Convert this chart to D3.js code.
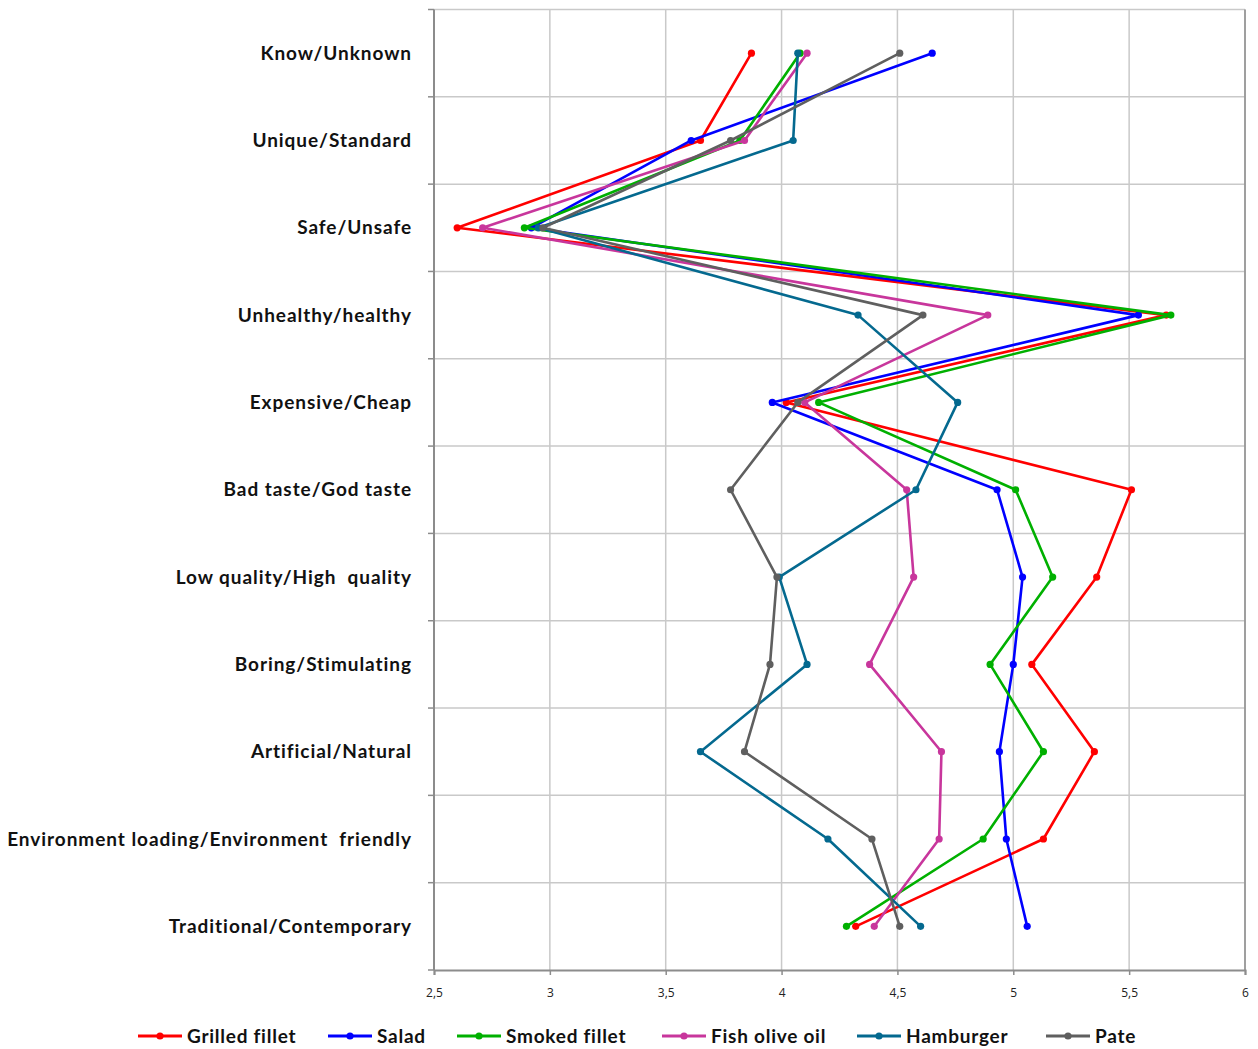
<!DOCTYPE html>
<html>
<head>
<meta charset="utf-8">
<script src="https://cdn.jsdelivr.net/npm/d3@7"></script>
<style>
  html, body { margin: 0; padding: 0; background: #fff; }
  svg { display: block; }
  .cat-label { font-family: Lato, "Open Sans", sans-serif; font-weight: 700; font-size: 19px; letter-spacing: 0.95px; fill: #111; white-space: pre; }
  .x-tick text { font-family: "Open Sans", Lato, sans-serif; font-size: 12px; fill: #222; }
  .legend text { font-family: Lato, "Open Sans", sans-serif; font-weight: 700; font-size: 19px; letter-spacing: 0.75px; fill: #111; }
</style>
</head>
<body>
<svg id="chart" width="1258" height="1049"></svg>
<script>
// Semantic differential attributes (top to bottom)
const categories = [
  "Know/Unknown",
  "Unique/Standard",
  "Safe/Unsafe",
  "Unhealthy/healthy",
  "Expensive/Cheap",
  "Bad taste/God taste",
  "Low quality/High  quality",
  "Boring/Stimulating",
  "Artificial/Natural",
  "Environment loading/Environment  friendly",
  "Traditional/Contemporary"
];

// Mean scores per product
const grilledFillet = [3.87, 3.65, 2.60, 5.66, 4.02, 5.51, 5.36, 5.08, 5.35, 5.13, 4.32];
const salad         = [4.65, 3.61, 2.92, 5.54, 3.96, 4.93, 5.04, 5.00, 4.94, 4.97, 5.06];
const smokedFillet  = [4.08, 3.82, 2.89, 5.68, 4.16, 5.01, 5.17, 4.90, 5.13, 4.87, 4.28];
const fishOliveOil  = [4.11, 3.84, 2.71, 4.89, 4.10, 4.54, 4.57, 4.38, 4.69, 4.68, 4.40];
const hamburger     = [4.07, 4.05, 2.95, 4.33, 4.76, 4.58, 3.99, 4.11, 3.65, 4.20, 4.60];
const pate          = [4.51, 3.78, 2.97, 4.61, 4.07, 3.78, 3.98, 3.95, 3.84, 4.39, 4.51];

const seriesNames  = ["Grilled fillet", "Salad", "Smoked fillet", "Fish olive oil", "Hamburger", "Pate"];
const seriesValues = [grilledFillet, salad, smokedFillet, fishOliveOil, hamburger, pate];
const seriesColors = ["#ff0000", "#0000ff", "#00b000", "#c8369c", "#04698f", "#5f5f5f"];

const xTicks = [2.5, 3, 3.5, 4, 4.5, 5, 5.5, 6];

const svg = d3.select("#chart");
const plot = { left: 434, right: 1245, top: 9.5, bottom: 970 };

const x = d3.scaleLinear().domain([2.5, 6]).range([plot.left, plot.right]);
const y = d3.scaleBand().domain(categories).range([plot.top, plot.bottom]).padding(0);
const yMid = c => y(c) + y.bandwidth() / 2;

const fmt = v => String(v).replace(".", ",");

// Grid: vertical lines at each x tick, horizontal lines at band boundaries
const grid = svg.append("g").attr("stroke", "#c9c9c9").attr("stroke-width", 1.5);
grid.selectAll("line.v").data(xTicks).join("line")
  .attr("x1", d => x(d)).attr("x2", d => x(d))
  .attr("y1", plot.top).attr("y2", plot.bottom);
const boundaries = categories.map(c => y(c));
grid.selectAll("line.h").data(boundaries).join("line")
  .attr("x1", plot.left).attr("x2", plot.right)
  .attr("y1", d => d).attr("y2", d => d);

// Right border
svg.append("line").attr("x1", plot.right).attr("x2", plot.right)
  .attr("y1", plot.top).attr("y2", plot.bottom)
  .attr("stroke", "#8c8c8c").attr("stroke-width", 1.5);

// X axis
const xAxis = d3.axisBottom(x).tickValues(xTicks).tickFormat(fmt).tickSize(5).tickPadding(13);
const gx = svg.append("g").attr("class", "x-tick")
  .attr("transform", `translate(0,${plot.bottom})`).call(xAxis);
gx.select(".domain").attr("stroke", "#8c8c8c").attr("stroke-width", 2);
gx.selectAll(".tick line").attr("stroke", "#8c8c8c").attr("stroke-width", 1.5);

// Y axis: ticks at band boundaries, labels at band centres
const gy = svg.append("g");
gy.append("line").attr("x1", plot.left).attr("x2", plot.left)
  .attr("y1", plot.top).attr("y2", plot.bottom)
  .attr("stroke", "#8c8c8c").attr("stroke-width", 2);
gy.selectAll("line.tk").data(boundaries.concat([plot.bottom])).join("line")
  .attr("x1", plot.left - 6).attr("x2", plot.left)
  .attr("y1", d => d).attr("y2", d => d)
  .attr("stroke", "#8c8c8c").attr("stroke-width", 1.5);
gy.selectAll("text").data(categories).join("text")
  .attr("class", "cat-label")
  .attr("x", 412)
  .attr("y", d => yMid(d))
  .attr("dy", "0.35em")
  .attr("text-anchor", "end")
  .text(d => d);

// Series lines and markers
const line = d3.line()
  .x(d => x(d.v))
  .y(d => yMid(d.c));

seriesValues.forEach((vals, i) => {
  const pts = vals.map((v, j) => ({ v, c: categories[j] }));
  const g = svg.append("g");
  g.append("path").datum(pts)
    .attr("d", line)
    .attr("fill", "none")
    .attr("stroke", seriesColors[i])
    .attr("stroke-width", 2.6)
    .attr("stroke-linejoin", "round");
  g.selectAll("circle").data(pts).join("circle")
    .attr("cx", d => x(d.v)).attr("cy", d => yMid(d.c))
    .attr("r", 3.6).attr("fill", seriesColors[i]);
});

// Legend
const legendX = [138, 328, 457, 662, 857, 1046];
const legend = svg.append("g").attr("class", "legend");
seriesNames.forEach((name, i) => {
  const g = legend.append("g").attr("transform", `translate(${legendX[i]},1036)`);
  g.append("line").attr("x1", 0).attr("x2", 44).attr("y1", 0).attr("y2", 0)
    .attr("stroke", seriesColors[i]).attr("stroke-width", 3);
  g.append("circle").attr("cx", 22).attr("cy", 0).attr("r", 3.6).attr("fill", seriesColors[i]);
  g.append("text").attr("x", 49).attr("y", 0).attr("dy", "0.36em").text(name);
});
</script>
</body>
</html>
